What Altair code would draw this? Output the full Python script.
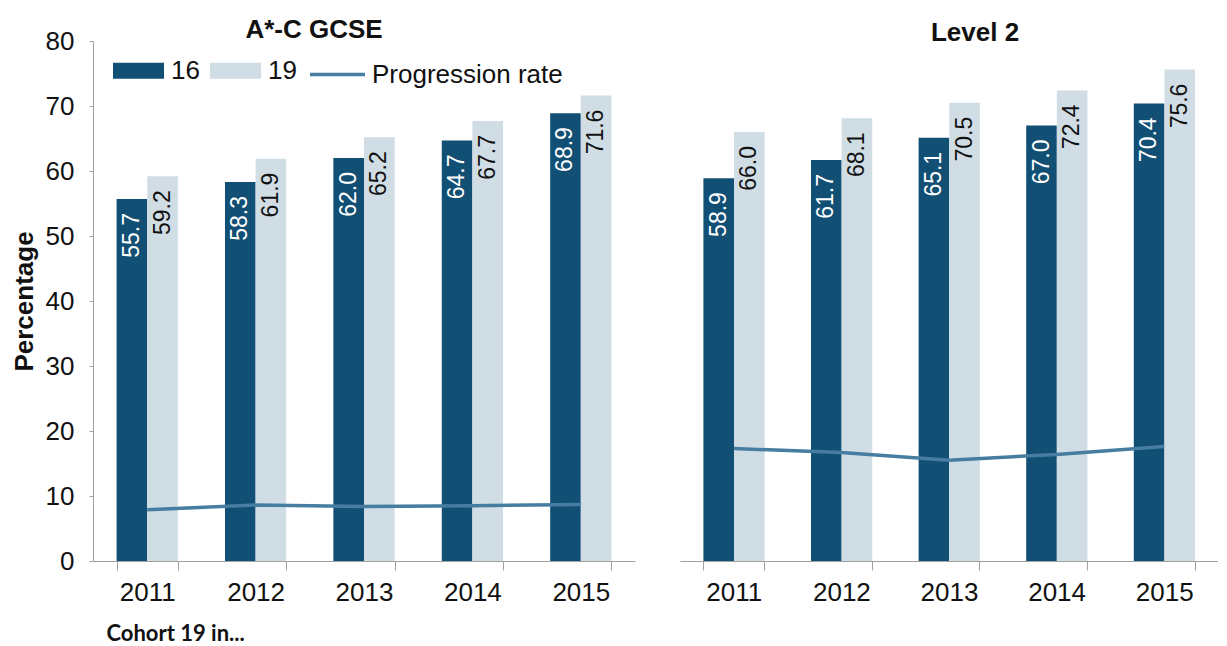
import altair as alt
import pandas as pd

years = ["2011", "2012", "2013", "2014", "2015"]
ages = ["16", "19"]

gcse_16 = [55.7, 58.3, 62.0, 64.7, 68.9]
gcse_19 = [59.2, 61.9, 65.2, 67.7, 71.6]
gcse_rate = [7.9, 8.6, 8.4, 8.5, 8.7]

l2_16 = [58.9, 61.7, 65.1, 67.0, 70.4]
l2_19 = [66.0, 68.1, 70.5, 72.4, 75.6]
l2_rate = [17.3, 16.7, 15.5, 16.4, 17.6]

rate_name = "Progression rate"

DARK = "#124f74"
LIGHT = "#d0dde5"
LINE = "#467da0"
AXIS = "#a0a0a0"
TXT = "#111111"
FONT = "Liberation Sans"
FS = 26


def bars_df(v16, v19):
    rows = []
    for y, a, b in zip(years, v16, v19):
        rows.append({"year": y, "age": "16", "value": a})
        rows.append({"year": y, "age": "19", "value": b})
    return pd.DataFrame(rows)


def rate_df(r):
    return pd.DataFrame({"year": years, "rate": r, "series": [rate_name] * len(years)})


def panel(v16, v19, rate, width, title, title_dx, title_offset, left):
    db = bars_df(v16, v19)
    dr = rate_df(rate)

    if left:
        x_axis = alt.Axis(
            title="Cohort 19 in...", titleFont="Lato", titleFontSize=22, titleFontWeight="bold",
            titleColor=TXT, titleAnchor="start", titleAlign="left", titleBaseline="alphabetic",
            titleX=13, titleY=79, titleAngle=0,
            labelAngle=0, labelFont=FONT, labelFontSize=FS, labelColor=TXT, labelPadding=9,
            tickBand="extent", tickSize=9, tickColor=AXIS, domainColor=AXIS, grid=False,
        )
        y_axis = alt.Axis(
            title="Percentage", titleFont=FONT, titleFontSize=26, titleFontWeight="bold",
            titleColor=TXT, titlePadding=8,
            values=[0, 10, 20, 30, 40, 50, 60, 70, 80],
            labelFont=FONT, labelFontSize=FS, labelColor=TXT, labelPadding=15,
            tickSize=4, tickColor=AXIS, domainColor=AXIS, grid=False,
        )
        fill_legend = alt.Legend(
            orient="none", legendX=20, legendY=4, direction="horizontal", title=None,
            symbolType="M-1,-0.31H1V0.31H-1Z", symbolSize=2601, symbolStrokeWidth=0,
            symbolOpacity=1, labelFont=FONT, labelFontSize=FS, labelColor=TXT,
            labelOffset=7, columnPadding=10, padding=0, labelLimit=300,
        )
        stroke_legend = alt.Legend(
            orient="none", legendX=215, legendY=4, direction="horizontal", title=None,
            symbolType="stroke", symbolSize=3025, symbolStrokeWidth=3.5,
            labelFont=FONT, labelFontSize=FS, labelColor=TXT, labelOffset=5, padding=0,
            labelLimit=300,
        )
    else:
        x_axis = alt.Axis(
            title=None,
            labelAngle=0, labelFont=FONT, labelFontSize=FS, labelColor=TXT, labelPadding=9,
            tickBand="extent", tickSize=9, tickColor=AXIS, domainColor=AXIS, grid=False,
        )
        y_axis = None
        fill_legend = None
        stroke_legend = None

    x = alt.X("year:N", scale=alt.Scale(domain=years, paddingInner=0.435, paddingOuter=0.2175), axis=x_axis)
    xo = alt.XOffset("age:N", scale=alt.Scale(domain=ages, paddingInner=0, paddingOuter=0))
    y = alt.Y("value:Q", scale=alt.Scale(domain=[0, 80], nice=False, zero=True), axis=y_axis)

    bars = alt.Chart(db).mark_bar().encode(
        x=x, xOffset=xo, y=y,
        fill=alt.Fill("age:N", scale=alt.Scale(domain=ages, range=[DARK, LIGHT]), legend=fill_legend),
    )
    t16 = alt.Chart(db).transform_filter(alt.datum.age == "16").mark_text(
        angle=270, align="right", baseline="middle", dx=-14, font=FONT, fontSize=23, color="white"
    ).encode(x=x, xOffset=xo, y=y, text=alt.Text("value:Q", format=".1f"))
    t19 = alt.Chart(db).transform_filter(alt.datum.age == "19").mark_text(
        angle=270, align="right", baseline="middle", dx=-14, font=FONT, fontSize=23, color=TXT
    ).encode(x=x, xOffset=xo, y=y, text=alt.Text("value:Q", format=".1f"))
    line = alt.Chart(dr).mark_line(strokeWidth=3.5).encode(
        x=x,
        y=alt.Y("rate:Q", scale=alt.Scale(domain=[0, 80], nice=False), axis=y_axis),
        stroke=alt.Stroke("series:N", scale=alt.Scale(domain=[rate_name], range=[LINE]), legend=stroke_legend),
    )
    return alt.layer(bars, t16, t19, line).properties(
        width=width, height=520,
        title=alt.TitleParams(
            text=title, font=FONT, fontSize=26, fontWeight="bold", color=TXT,
            anchor="middle", frame="group", dx=title_dx, baseline="alphabetic", offset=title_offset,
        ),
    )


left = panel(gcse_16, gcse_19, gcse_rate, 542, "A*-C GCSE", -50, -36, True)
right = panel(l2_16, l2_19, l2_rate, 538, "Level 2", 26, -26, False)

chart = alt.hconcat(left, right, spacing=45).resolve_scale(
    x="independent", y="independent", fill="independent", stroke="independent"
).properties(
    padding={"left": 3, "top": 9, "right": 0, "bottom": 0}
).configure_view(strokeWidth=0)

chart.save("out.html", embed_options={"renderer": "svg", "actions": False})
